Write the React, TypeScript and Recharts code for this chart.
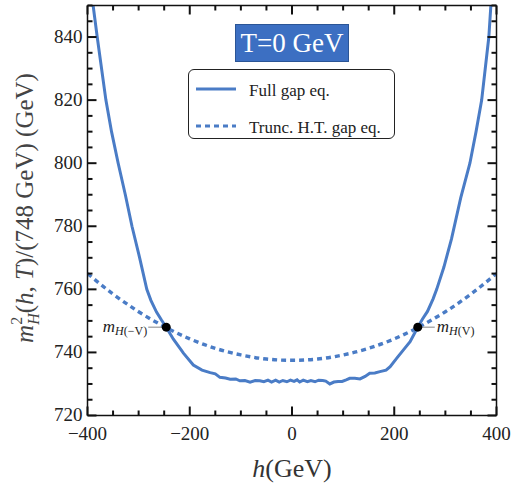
import { LineChart, Line, XAxis, YAxis, ReferenceDot } from "recharts";

const BLUE = "#4a7cc6";
const SERIF = "'Liberation Serif', 'Times New Roman', serif";

// full gap equation, sampled points (GeV, value)
const fullH = [
  -400, -389, -381, -364, -353, -340, -326, -313, -298, -284, -276, -265, -255, -246, -232, -212, -193,
  -176, -160, -150, -141, -130, -121, -110, -102, -92, -82, -72, -63, -55, -47, -40, -32, -25, -18, -10,
  -3, 4, 10, 15, 22, 30, 37, 45, 52, 60, 66, 74, 82, 90, 98, 106, 113, 123, 133, 143, 152, 162, 172,
  184, 192, 205, 218, 231, 246, 255, 265, 276, 283, 297, 312, 330, 348, 360, 371, 385, 389, 400,
];
const fullGap = [
  872, 850, 840, 820, 810, 800, 790, 780, 770, 760, 756.5, 752.8, 750.2, 748, 744.2, 739.7, 736.0,
  734.4, 733.6, 733.2, 732.1, 731.9, 731.5, 731.6, 731.0, 731.1, 730.6, 731.1, 731.0, 730.7, 731.2, 730.6, 731.2, 730.6, 731.1, 730.7,
  731.2, 730.8, 731.3, 730.6, 731.2, 730.7, 731.1, 730.7, 731.2, 731.1, 730.9, 730.0, 730.6, 730.8, 730.8, 731.3, 731.8, 731.8, 731.6, 732.4, 733.4, 733.5, 733.9,
  734.4, 735.5, 738.2, 740.8, 743.4, 748, 750.5, 753, 757, 760, 767, 776, 789, 800, 810, 820, 840, 850, 866,
];

// truncated high-temperature gap equation
const truncH = [-400, -350, -300, -250, -200, -150, -100, -50, 0, 50, 100, 150, 200, 250, 300, 350, 400];
const truncGap = [765.0, 758.5, 752.9, 748.2, 744.3, 741.3, 739.2, 737.9, 737.5, 737.9, 739.2, 741.3, 744.3, 748.2, 752.9, 758.5, 765.0];

const xTicks = [-400, -350, -300, -250, -200, -150, -100, -50, 0, 50, 100, 150, 200, 250, 300, 350, 400];
const yTicks = [
  720, 725, 730, 735, 740, 745, 750, 755, 760, 765, 770, 775, 780, 785, 790, 795, 800, 805, 810, 815,
  820, 825, 830, 835, 840, 845, 850,
];
const xLabelStep = 200;
const yLabelStep = 20;

// crossing points m_H(±V)
const vPoints = [
  { h: -246, m: 748, label: "(−V)", side: "left" },
  { h: 246, m: 748, label: "(V)", side: "right" },
];

const fullData = fullH.map((h, i) => ({ h, full: fullGap[i] }));
const truncData = truncH.map((h, i) => ({ h, trunc: truncGap[i] }));

const fmt = (v: number) => (v < 0 ? `\u2212${-v}` : `${v}`);

const TICK = { stroke: "#111", strokeWidth: 2 };

// ticks point into the frame, labels only on the major ones
function BottomTick({ x, y, payload }: any) {
  const v = payload.value;
  const major = Math.abs(v) % xLabelStep === 0;
  return (
    <g>
      <line x1={x} x2={x} y1={y} y2={y - (major ? 9 : 5)} {...TICK} />
      {major && (
        <text x={x} y={y + 24} textAnchor="middle" fontFamily={SERIF} fontSize={19} fill="#222">
          {fmt(v)}
        </text>
      )}
    </g>
  );
}

function TopTick({ x, y, payload }: any) {
  const major = Math.abs(payload.value) % xLabelStep === 0;
  return <line x1={x} x2={x} y1={y} y2={y + (major ? 9 : 5)} {...TICK} />;
}

function LeftTick({ x, y, payload }: any) {
  const v = payload.value;
  const major = (v - 720) % yLabelStep === 0;
  return (
    <g>
      <line x1={x} x2={x + (major ? 9 : 5)} y1={y} y2={y} {...TICK} />
      {major && (
        <text x={x - 5} y={y + 5.5} textAnchor="end" fontFamily={SERIF} fontSize={19} fill="#222">
          {v}
        </text>
      )}
    </g>
  );
}

function RightTick({ x, y, payload }: any) {
  const major = (payload.value - 720) % yLabelStep === 0;
  return <line x1={x} x2={x - (major ? 9 : 5)} y1={y} y2={y} {...TICK} />;
}

function VDot({ cx, cy, label, side }: any) {
  const left = side === "left";
  const lx1 = left ? cx - 4 : cx + 4;
  const lx2 = left ? cx - 18 : cx + 17;
  return (
    <g>
      <line x1={lx1} x2={lx2} y1={cy} y2={cy} stroke="#999" strokeWidth={1.2} />
      <circle cx={cx} cy={cy} r={4.5} fill="#000" />
      <text
        x={left ? lx2 - 1 : lx2 + 2}
        y={cy + 5}
        textAnchor={left ? "end" : "start"}
        fontFamily={SERIF}
        fill="#222"
      >
        <tspan fontStyle="italic" fontSize={17}>m</tspan>
        <tspan fontStyle="italic" fontSize={12} dy={3}>H</tspan>
        <tspan fontSize={12}>{label}</tspan>
      </text>
    </g>
  );
}

// axis titles sit underneath the chart svg
function Titles() {
  return (
    <svg width={521} height={485} style={{ position: "absolute", left: 0, top: 0 }}>
      <text
        transform="translate(33 208) rotate(-90)"
        textAnchor="middle"
        fontFamily={SERIF}
        fontSize={25}
        fill="#444"
      >
        <tspan fontStyle="italic">m</tspan>
        <tspan fontSize={16} dy={-11}>2</tspan>
        <tspan fontSize={16} fontStyle="italic" dx={-8} dy={17}>H</tspan>
        <tspan dy={-6}>(</tspan>
        <tspan fontStyle="italic">h</tspan>
        <tspan>, </tspan>
        <tspan fontStyle="italic">T</tspan>
        <tspan>)/(748 GeV)  (GeV)</tspan>
      </text>
      <text x={292} y={477} textAnchor="middle" fontFamily={SERIF} fontSize={26} fill="#333">
        <tspan fontStyle="italic">h</tspan>
        <tspan>(GeV)</tspan>
      </text>
    </svg>
  );
}

function LegendBox() {
  const row = (dash: string | undefined, text: string) => (
    <div style={{ display: "flex", alignItems: "center", height: 37 }}>
      <svg width={54} height={10} style={{ marginLeft: 6 }}>
        <line x1={1} x2={41} y1={5} y2={5} stroke={BLUE} strokeWidth={3} strokeDasharray={dash} />
      </svg>
      <span style={{ fontFamily: SERIF, fontSize: 17, color: "#222", marginTop: 4 }}>{text}</span>
    </div>
  );
  return (
    <div
      style={{
        position: "absolute",
        left: 188,
        top: 69,
        width: 207,
        height: 70,
        border: "1.5px solid #222",
        borderRadius: 6,
        background: "#fff",
        boxSizing: "border-box",
      }}
    >
      {row(undefined, "Full gap eq.")}
      {row("5 4", "Trunc. H.T. gap eq.")}
    </div>
  );
}

export default function App() {
  return (
    <div style={{ position: "absolute", left: 0, top: 0, width: 521, height: 485, background: "#fff" }}>
      <Titles />
      <LineChart width={521} height={485} margin={{ top: 4.5, right: 23.5, bottom: 9.5, left: 7.5 }}>
        <XAxis
          xAxisId="b"
          type="number"
          dataKey="h"
          domain={[-400, 400]}
          ticks={xTicks}
          interval={0}
          tick={<BottomTick />}
          tickLine={false}
          tickSize={0}
          tickMargin={0}
          height={60}
          axisLine={{ stroke: "#111", strokeWidth: 1.5 }}
          allowDataOverflow
        />
        <XAxis
          xAxisId="t"
          orientation="top"
          type="number"
          dataKey="h"
          domain={[-400, 400]}
          ticks={xTicks}
          interval={0}
          tick={<TopTick />}
          tickLine={false}
          tickSize={0}
          tickMargin={0}
          height={1}
          axisLine={{ stroke: "#111", strokeWidth: 1.5 }}
          allowDataOverflow
        />
        <YAxis
          yAxisId="l"
          type="number"
          domain={[720, 850]}
          ticks={yTicks}
          interval={0}
          tick={<LeftTick />}
          tickLine={false}
          tickSize={0}
          tickMargin={0}
          width={80}
          axisLine={{ stroke: "#111", strokeWidth: 1.5 }}
          allowDataOverflow
        />
        <YAxis
          yAxisId="r"
          orientation="right"
          type="number"
          domain={[720, 850]}
          ticks={yTicks}
          interval={0}
          tick={<RightTick />}
          tickLine={false}
          tickSize={0}
          tickMargin={0}
          width={1}
          axisLine={{ stroke: "#111", strokeWidth: 1.5 }}
          allowDataOverflow
        />
        <Line
          xAxisId="b"
          yAxisId="l"
          data={truncData}
          dataKey="trunc"
          type="monotone"
          stroke={BLUE}
          strokeWidth={3.4}
          strokeDasharray="5 4"
          dot={false}
          isAnimationActive={false}
        />
        <Line
          xAxisId="b"
          yAxisId="l"
          data={fullData}
          dataKey="full"
          type="linear"
          stroke={BLUE}
          strokeWidth={3}
          dot={false}
          isAnimationActive={false}
        />
        {vPoints.map((p) => (
          <ReferenceDot
            key={p.side}
            xAxisId="b"
            yAxisId="l"
            x={p.h}
            y={p.m}
            r={4.5}
            shape={(props: any) => <VDot {...props} label={p.label} side={p.side} />}
          />
        ))}
      </LineChart>
      <div
        style={{
          position: "absolute",
          left: 235,
          top: 24,
          width: 114,
          height: 38,
          background: "#3c6fc2",
          border: "1px solid #2b5596",
          boxSizing: "border-box",
          color: "#fff",
          fontFamily: SERIF,
          fontSize: 27,
          lineHeight: "36px",
          textAlign: "center",
        }}
      >
        T=0 GeV
      </div>
      <LegendBox />
    </div>
  );
}
